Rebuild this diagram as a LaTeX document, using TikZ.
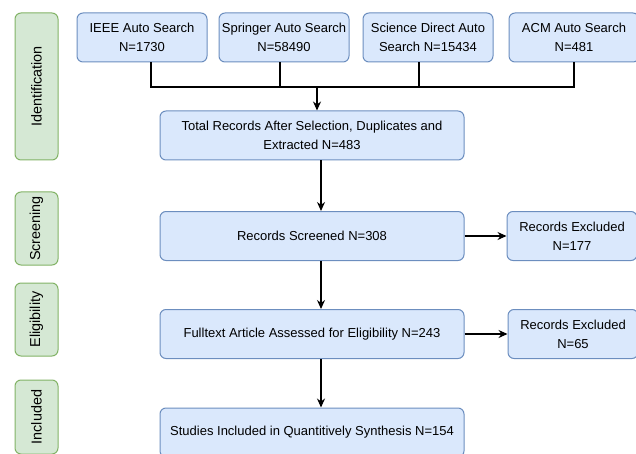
\documentclass[tikz,border=0pt]{standalone}
\usepackage{fontspec}
\setmainfont{Liberation Sans}
\usetikzlibrary{arrows.meta,calc}
\definecolor{boxblue}{HTML}{DAE8FC}
\definecolor{lineblue}{HTML}{6C8EBF}
\definecolor{boxgreen}{HTML}{D5E8D4}
\definecolor{linegreen}{HTML}{82B366}
\begin{document}
\begin{tikzpicture}[x=1pt,y=-1pt,
	stage/.style={draw=lineblue,fill=boxblue,rounded corners=6pt,line width=1pt,align=center,inner sep=0pt,minimum height=49pt,font=\fontsize{13}{19}\selectfont},
	phase/.style={draw=linegreen,fill=boxgreen,rounded corners=6pt,line width=1pt,inner sep=0pt,minimum height=43pt,rotate=90,font=\fontsize{14.4}{17}\selectfont},
	link/.style={line width=1.2pt},
	arr/.style={line width=1.2pt,-{Stealth[length=9pt,width=8pt]}}]
	\useasboundingbox (0,0) rectangle (636,454);
	\clip (0,0) rectangle (636,454);
	% phases on the left
	\node[phase,minimum width=147pt] (identification) at (36.5,86.5) {Identification};
	\node[phase,minimum width=73pt] (screening) at (36.5,228.5) {Screening};
	\node[phase,minimum width=73pt] (eligibility) at (36.5,319.5) {Eligibility};
	\node[phase,minimum width=74pt] (includedlab) at (36.5,417) {Included};
	% searches
	\node[stage,minimum width=130pt] (ieee) at (142,37.5) {IEEE Auto Search\\N=1730};
	\node[stage,minimum width=130pt] (springer) at (284,37.5) {Springer Auto Search\\N=58490};
	\node[stage,minimum width=130pt] (sciencedirect) at (428,37.5) {Science Direct Auto\\Search N=15434};
	\node[stage,minimum width=130pt] (acm) at (574,37.5) {ACM Auto Search\\N=481};
	% main column
	\node[stage,minimum width=304pt] (total) at (312,135.5) {Total Records After Selection, Duplicates and\\Extracted N=483};
	\node[stage,minimum width=304pt] (screened) at (312,236) {Records Screened N=308};
	\node[stage,minimum width=304pt] (fulltext) at (312,334) {Fulltext Article Assessed for Eligibility N=243};
	\node[stage,minimum width=304pt] (included) at (312,432.5) {Studies Included in Quantitively Synthesis N=154};
	% excluded
	\node[stage,minimum width=130pt] (excla) at (572,236) {Records Excluded\\N=177};
	\node[stage,minimum width=130pt] (exclb) at (573,334) {Records Excluded\\N=65};
	% connectors
	\coordinate (junction) at (317,87);
	\coordinate (spine) at (321,0);
	\foreach \n/\dx in {ieee/9,springer/-4,sciencedirect/-9,acm/0}
		\draw[link] ($(\n.south)+(\dx,0)$) |- (junction);
	\draw[arr] (junction) -- (total.north -| junction);
	\draw[arr] (total.south -| spine) -- (screened.north -| spine);
	\draw[arr] (screened.south -| spine) -- (fulltext.north -| spine);
	\draw[arr] (fulltext.south -| spine) -- (included.north -| spine);
	\draw[arr] (screened.east) -- (screened.east -| excla.west);
	\draw[arr] (fulltext.east) -- (fulltext.east -| exclb.west);
\end{tikzpicture}
\end{document}
